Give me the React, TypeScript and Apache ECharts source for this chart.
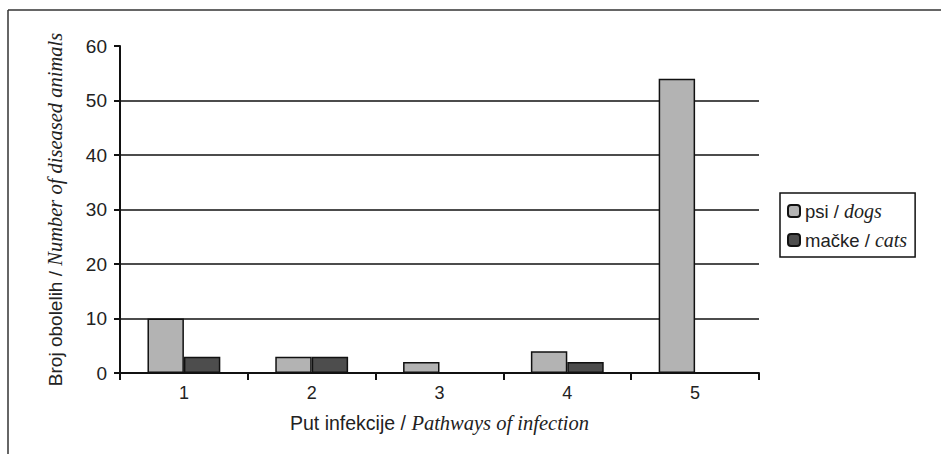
import React, { useEffect, useRef } from "react";
import * as echarts from "echarts";

const categories = ["1", "2", "3", "4", "5"];
const dogs = [10, 3, 2, 4, 54];
const cats = [3, 3, 0, 2, 0];
const yTicks = [0, 10, 20, 30, 40, 50, 60];

export default function App() {
  const ref = useRef<HTMLDivElement>(null);
  useEffect(() => {
    document.body.style.margin = "0";
    const chart = echarts.init(ref.current!, null, { renderer: "svg" });
    const sans = "'Liberation Sans', Arial, sans-serif";
    const serif = "'Liberation Serif', 'Times New Roman', serif";
    chart.setOption({
      animation: false,
      backgroundColor: "#ffffff",
      grid: { left: 120, right: 182, top: 46, bottom: 81 },
      graphic: [
        { type: "line", shape: { x1: 8, y1: 10, x2: 941, y2: 10 }, style: { stroke: "#333", lineWidth: 1.5 } },
        { type: "line", shape: { x1: 8, y1: 10, x2: 8, y2: 454 }, style: { stroke: "#333", lineWidth: 1.5 } },
      ],
      legend: {
        orient: "vertical",
        left: 780,
        top: 193,
        borderColor: "#111",
        borderWidth: 1.5,
        padding: [8, 8, 7, 7],
        itemGap: 9,
        itemWidth: 12,
        itemHeight: 12,
        data: ["psi", "mačke"],
        formatter: (name: string) =>
          name === "psi" ? "{a|psi / }{b|dogs}" : "{a|mačke / }{b|cats}",
        textStyle: {
          rich: {
            a: { fontFamily: sans, fontSize: 18.5, color: "#222" },
            b: { fontFamily: serif, fontStyle: "italic", fontSize: 20, color: "#222" },
          },
        },
      },
      xAxis: {
        type: "category",
        data: categories,
        axisLine: { lineStyle: { color: "#111", width: 2 } },
        axisTick: { show: true, length: 7, lineStyle: { color: "#111", width: 2 } },
        axisLabel: { fontFamily: sans, fontSize: 18, color: "#222", margin: 11 },
        name: "{a|Put infekcije / }{b|Pathways of infection}",
        nameLocation: "middle",
        nameGap: 40,
        nameTextStyle: {
          rich: {
            a: { fontFamily: sans, fontSize: 19.5, color: "#222" },
            b: { fontFamily: serif, fontStyle: "italic", fontSize: 20.5, color: "#222" },
          },
        },
      },
      yAxis: {
        type: "value",
        min: yTicks[0],
        max: yTicks[yTicks.length - 1],
        interval: 10,
        axisLine: { show: true, lineStyle: { color: "#111", width: 2 } },
        axisTick: { show: true, length: 6, lineStyle: { color: "#111", width: 2 } },
        axisLabel: { fontFamily: sans, fontSize: 19, color: "#222", margin: 13 },
        splitLine: {
          show: true,
          showMaxLine: false,
          showMinLine: false,
          lineStyle: { color: "#111", width: 1.5 },
        },
        name: "{a|Broj obolelih / }{b|Number of diseased animals}",
        nameLocation: "middle",
        nameRotate: 90,
        nameGap: 55,
        nameTextStyle: {
          rich: {
            a: { fontFamily: sans, fontSize: 19, color: "#222" },
            b: { fontFamily: serif, fontStyle: "italic", fontSize: 20.5, color: "#222" },
          },
        },
      },
      series: [
        {
          name: "psi",
          type: "bar",
          data: dogs,
          barGap: "0%",
          barCategoryGap: "43%",
          itemStyle: { color: "#b3b3b3", borderColor: "#111", borderWidth: 1.5 },
        },
        {
          name: "mačke",
          type: "bar",
          data: cats,
          barGap: "0%",
          barCategoryGap: "43%",
          itemStyle: { color: "#4d4d4d", borderColor: "#111", borderWidth: 1.5 },
        },
      ],
    });
    return () => chart.dispose();
  }, []);
  return <div ref={ref} style={{ width: 941, height: 454 }} />;
}
